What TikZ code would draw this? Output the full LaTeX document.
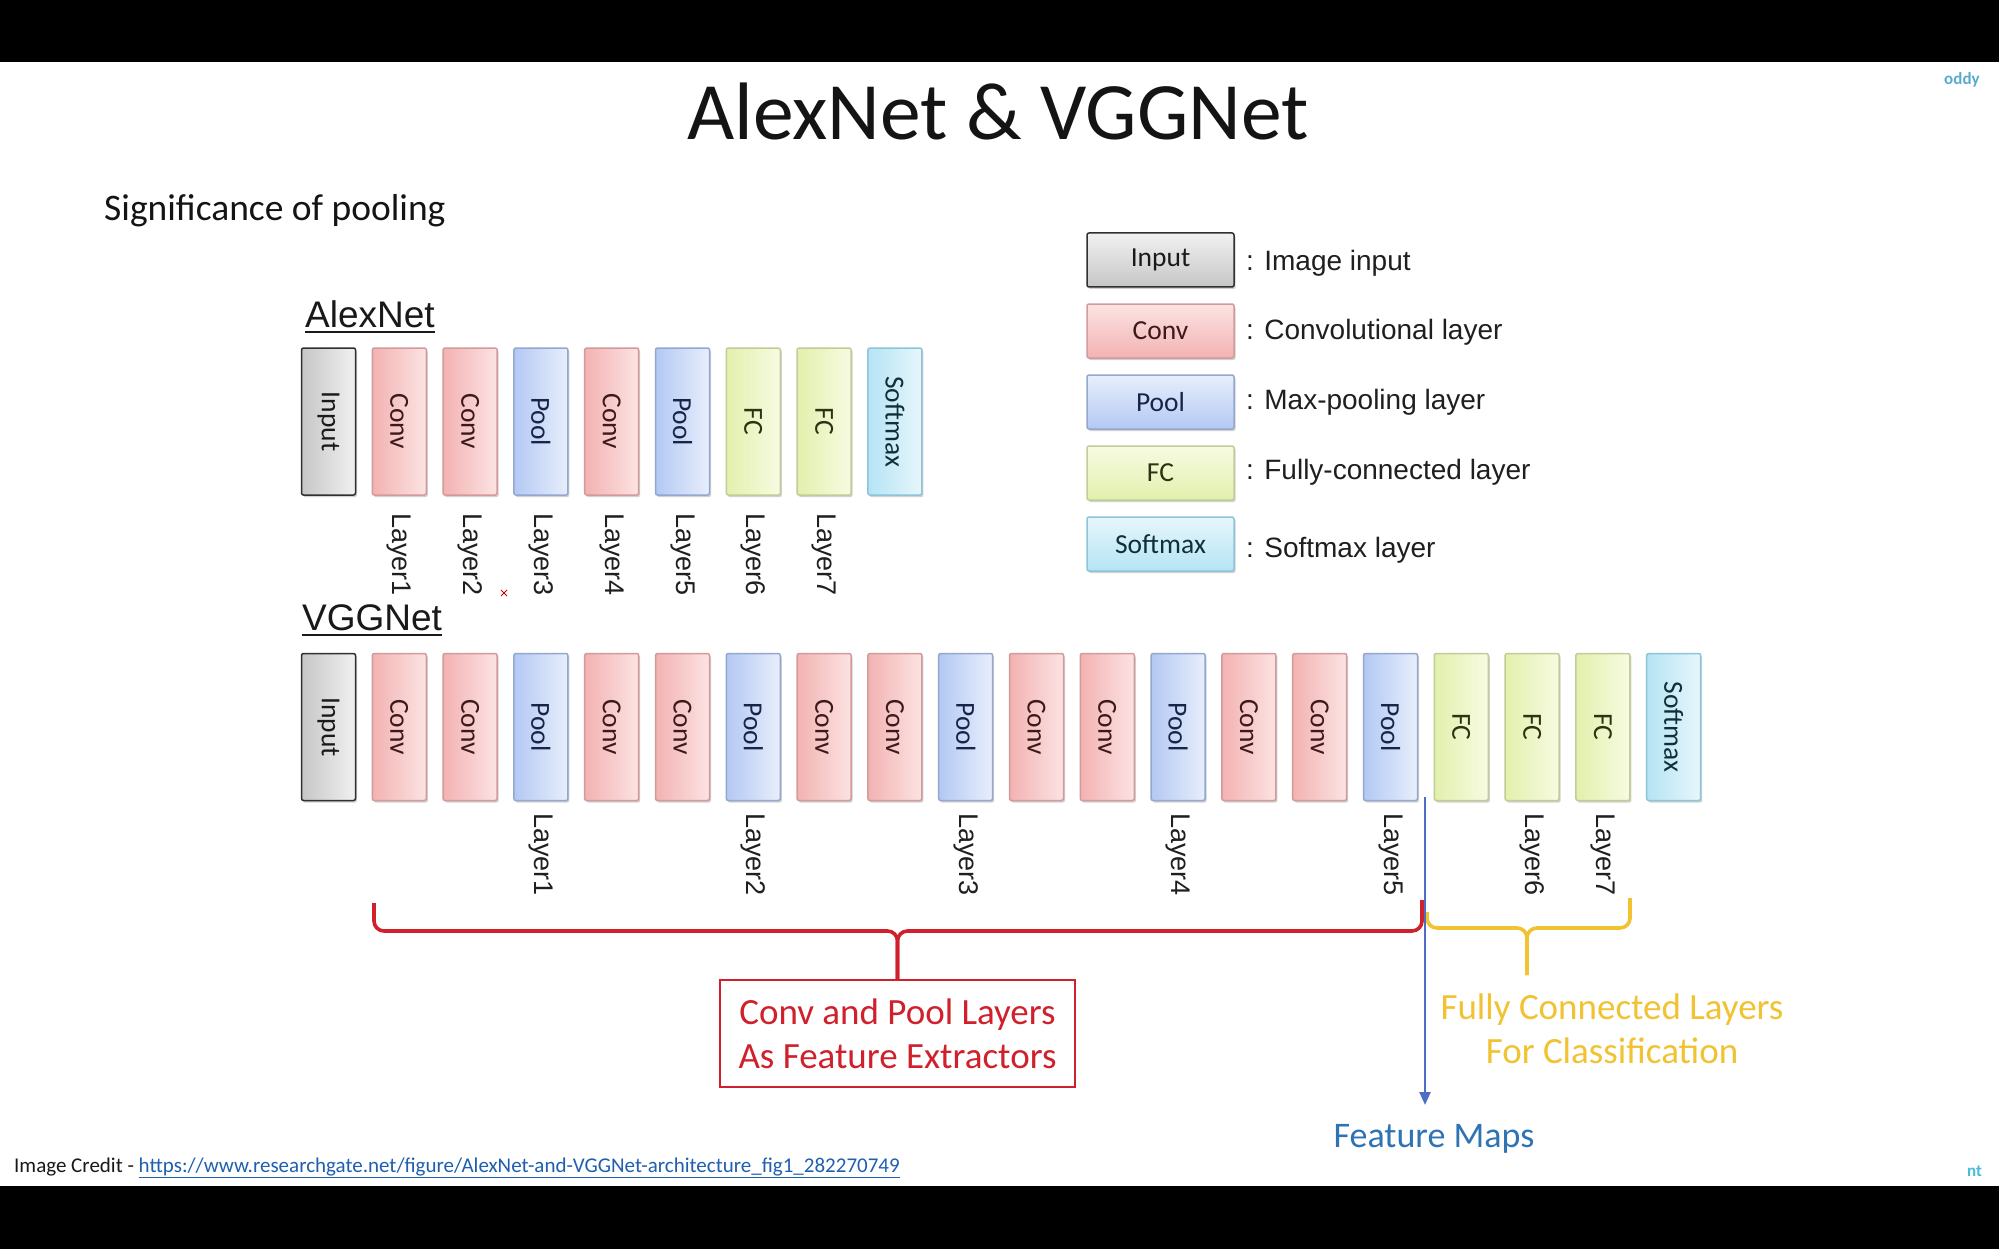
\documentclass[tikz,border=0pt]{standalone}
\usepackage{fontspec}
\setmainfont{Carlito}
\newfontfamily\arialf{Liberation Sans}
\usetikzlibrary{shadows,arrows.meta}

% layer colours: D = darker side, L = lighter side, B = border, T = text
\definecolor{inputD}{HTML}{C6C6C6}\definecolor{inputL}{HTML}{F1F1F1}
\definecolor{inputB}{HTML}{303030}\definecolor{inputT}{HTML}{1A1A1A}
\definecolor{convD}{HTML}{F3B2B2}\definecolor{convL}{HTML}{FCE3E3}
\definecolor{convB}{HTML}{D39A9A}\definecolor{convT}{HTML}{3D1A1A}
\definecolor{poolD}{HTML}{B3C8F3}\definecolor{poolL}{HTML}{E8EFFC}
\definecolor{poolB}{HTML}{93A7CF}\definecolor{poolT}{HTML}{17254A}
\definecolor{fcD}{HTML}{E2F0AC}\definecolor{fcL}{HTML}{F7FBE2}
\definecolor{fcB}{HTML}{C0CD98}\definecolor{fcT}{HTML}{2A3312}
\definecolor{softD}{HTML}{B5E4F4}\definecolor{softL}{HTML}{E7F6FB}
\definecolor{softB}{HTML}{8CC4D8}\definecolor{softT}{HTML}{0F2F3A}
\definecolor{extred}{HTML}{D0202C}
\definecolor{fcyellow}{HTML}{F1C232}
\definecolor{fmblue}{HTML}{2E74B5}
\definecolor{arrowblue}{HTML}{4D6EC4}
\definecolor{linkblue}{HTML}{1F5FAF}
\definecolor{wmblue}{HTML}{5AAAD0}

\begin{document}
\begin{tikzpicture}[x=1pt,y=-1pt,
  shadowed/.style={drop shadow={shadow xshift=1.5pt,shadow yshift=-2pt,opacity=0.18,fill=black}},
  blk/.style={draw=#1B, left color=#1D, right color=#1L, line width=1.5pt,
    rounded corners=2pt, minimum width=54pt, minimum height=147pt, inner sep=0pt, shadowed},
  vlab/.style={rotate=-90, inner sep=0pt, text=#1T, font=\fontsize{27.5}{33}\selectfont},
  lgbox/.style={draw=#1B, top color=#1L, bottom color=#1D, line width=1.5pt,
    rounded corners=2pt, minimum width=147pt, minimum height=54pt, inner sep=0pt,
    text=#1T, font=\fontsize{27.5}{33}\selectfont, shadowed},
  lgtext/.style={anchor=base west, inner sep=0pt, text=black!88, font=\arialf\fontsize{28}{33}\selectfont},
  layerlab/.style={rotate=-90, anchor=west, inner sep=0pt, text=black!88,
    font=\arialf\fontsize{27}{32}\selectfont},
  nethead/.style={anchor=base west, inner sep=0pt, text=black!90,
    font=\arialf\fontsize{37}{44}\selectfont},
  uline/.style={line width=2.6pt, black!90},
  brace/.style={line width=3.6pt, rounded corners=10pt, line join=round},
  bigtext/.style={align=center, font=\fontsize{37}{44}\selectfont}
]
\useasboundingbox (0,0) rectangle (1999,1249);
\fill[white] (0,0) rectangle (1999,1249);
\fill[black] (0,0) rectangle (1999,62);
\fill[black] (0,1186) rectangle (1999,1249);

% slide title and subtitle
\node[anchor=base, inner sep=0pt, text=black!92, font=\fontsize{81.5}{98}\selectfont]
  (title) at (998,140) {AlexNet \& VGGNet};
\node[anchor=base west, inner sep=0pt, text=black!92, font=\fontsize{37.5}{45}\selectfont]
  (subtitle) at (104,221) {Significance of pooling};

% ---------------- AlexNet ----------------
\node[nethead] (alexhead) at (305,327) {AlexNet};
\draw[uline] (alexhead.base west) ++(0,5) coordinate (au1) -- (alexhead.base east |- au1);

\foreach \t/\s [count=\i from 0] in
  {input/Input,conv/Conv,conv/Conv,pool/Pool,conv/Conv,pool/Pool,fc/FC,fc/FC,soft/Softmax}
{
  \node[blk=\t] (a\i) at ({328.5+70.8*\i},421.5) {};
  \node[vlab=\t] (at\i) at (a\i) {\s};
}
\foreach \i in {1,...,7}
  \node[layerlab] (al\i) at ({328.5+70.8*\i},513) {Layer\i};

% ---------------- VGGNet ----------------
\node[nethead] (vgghead) at (302,630) {VGGNet};
\draw[uline] (vgghead.base west) ++(0,5) coordinate (vu1) -- (vgghead.base east |- vu1);

\foreach \t/\s [count=\i from 0] in
  {input/Input,conv/Conv,conv/Conv,pool/Pool,conv/Conv,conv/Conv,pool/Pool,
   conv/Conv,conv/Conv,pool/Pool,conv/Conv,conv/Conv,pool/Pool,conv/Conv,conv/Conv,pool/Pool,
   fc/FC,fc/FC,fc/FC,soft/Softmax}
{
  \node[blk=\t] (v\i) at ({328.5+70.8*\i},727) {};
  \node[vlab=\t] (vt\i) at (v\i) {\s};
}
\foreach \i/\n in {3/1,6/2,9/3,12/4,15/5,17/6,18/7}
  \node[layerlab] (vl\n) at ({328.5+70.8*\i},813) {Layer\n};

% ---------------- legend ----------------
\foreach \t/\s/\d/\yb [count=\k from 0] in
  {input/Input/{: Image input}/271,
   conv/Conv/{: Convolutional layer}/339,
   pool/Pool/{: Max-pooling layer}/409,
   fc/FC/{: Fully-connected layer}/479,
   soft/Softmax/{: Softmax layer}/557}
{
  \node[lgbox=\t] (lg\k) at (1160.5,{260+71*\k}) {\raisebox{-2.5pt}{\s}};
  \node[lgtext] (ld\k) at (1246,\yb) {\d};
}

% ---------------- braces and annotations ----------------
\node[draw=extred, line width=2pt, minimum width=355pt, minimum height=107pt,
  text=extred, bigtext] (cp) at (897.5,1033.5) {Conv and Pool Layers\\As Feature Extractors};
\coordinate (rL) at (374,903);
\coordinate (rR) at (1422,900);
\draw[brace, extred] (rL) -- (374,931) -- (897.5,931) -- (cp.north);
\draw[brace, extred] (rR) -- (1422,931) -- (897.5,931) -- (cp.north);

\node[text=fcyellow, bigtext] (fcl) at (1612,1029) {Fully Connected Layers\\For Classification};
\coordinate (yL) at (1427,912);
\coordinate (yR) at (1630,898);
\coordinate (yT) at (1527,975);
\draw[brace, fcyellow] (yL) -- (1427,928) -- (1527,928) -- (yT);
\draw[brace, fcyellow] (yR) -- (1630,928) -- (1527,928) -- (yT);

\node[anchor=base, inner sep=0pt, text=fmblue, font=\fontsize{36}{43}\selectfont]
  (fm) at (1434,1147) {Feature Maps};
\coordinate (fmstart) at (1425,797);
\coordinate (fmend) at (1425,1105);
\draw[arrowblue, line width=2.4pt, -{Triangle[length=13pt,width=11pt]}] (fmstart) -- (fmend);

% small red cross mark
\coordinate (xm) at (504,593);
\draw[red!80!black, line width=1pt] (xm) ++(-3,-3) -- ++(6,6) (xm) ++(-3,3) -- ++(6,-6);

% footer and corner marks
\node[anchor=base west, inner sep=0pt, text=black!90, font=\fontsize{21}{25}\selectfont]
  (credit) at (14,1172) {Image Credit - \textcolor{linkblue}{\underline{https://www.researchgate.net/figure/AlexNet-and-VGGNet-architecture\_fig1\_282270749}}};
\node[anchor=base west, inner sep=0pt, text=wmblue, font=\bfseries\fontsize{17}{20}\selectfont]
  (wm1) at (1944,85) {oddy};
\node[anchor=base west, inner sep=0pt, text=wmblue!80!cyan, font=\bfseries\fontsize{17}{20}\selectfont]
  (wm2) at (1967,1176) {nt};
\end{tikzpicture}
\end{document}
